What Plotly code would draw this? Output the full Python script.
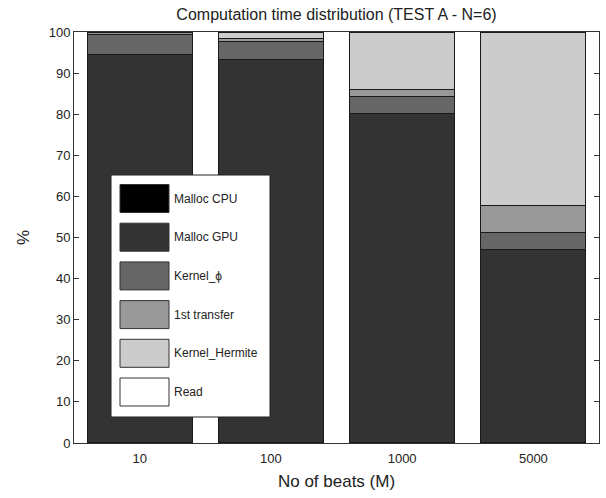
import plotly.graph_objects as go

# Stacked share of computation time per stage, by number of beats
categories = ["10", "100", "1000", "5000"]
series_names = ["Malloc CPU", "Malloc GPU", "Kernel_\u03d5", "1st transfer", "Kernel_Hermite", "Read"]
malloc_cpu = [0.1, 0.1, 0.05, 0.05]
malloc_gpu = [94.4, 93.3, 80.0, 47.1]
kernel_phi = [5.0, 4.4, 4.2, 4.1]
first_transfer = [0.3, 0.5, 1.8, 6.6]
kernel_hermite = [0.2, 1.7, 13.9, 42.1]
read = [0.0, 0.0, 0.05, 0.05]
y_ticks = [0, 10, 20, 30, 40, 50, 60, 70, 80, 90, 100]

series_values = [malloc_cpu, malloc_gpu, kernel_phi, first_transfer, kernel_hermite, read]
colors = ["#000000", "#333333", "#666666", "#999999", "#cccccc", "#ffffff"]

W, H = 606, 498
L, R, T, B = 74, 7, 32, 55
FONT = "Liberation Sans, Arial, sans-serif"

fig = go.Figure()
for name, vals, col in zip(series_names, series_values, colors):
    fig.add_trace(go.Bar(
        x=categories, y=vals, name=name, showlegend=False,
        marker=dict(color=col, line=dict(color="#1a1a1a", width=1)),
    ))

# Legend box drawn in paper coordinates
pw, ph = W - L - R, H - T - B
def px(x):
    return (x - L) / pw
def py(y):
    return 1 - (y - T) / ph

shapes = [dict(type="rect", xref="paper", yref="paper",
               x0=px(111), x1=px(270), y0=py(417), y1=py(175),
               fillcolor="white", line=dict(color="#222222", width=1))]
annotations = []
for i, (name, col) in enumerate(zip(series_names, colors)):
    yc = 198.5 + i * 38.7
    shapes.append(dict(type="rect", xref="paper", yref="paper",
                       x0=px(120), x1=px(169), y0=py(yc + 14), y1=py(yc - 14),
                       fillcolor=col, line=dict(color="#333333", width=1)))
    annotations.append(dict(xref="paper", yref="paper", x=px(172), y=py(yc),
                            text=name, showarrow=False, xanchor="left", yanchor="middle",
                            font=dict(family=FONT, size=12, color="#222222")))

fig.update_layout(
    width=W, height=H,
    margin=dict(l=L, r=R, t=T, b=B),
    paper_bgcolor="white", plot_bgcolor="white",
    barmode="stack", bargap=0.2,
    title=dict(text="Computation time distribution (TEST A - N=6)",
               x=(L + (W - R)) / 2 / W, xanchor="center", y=1 - 14 / H, yanchor="middle",
               font=dict(family=FONT, size=16, color="#222222")),
    xaxis=dict(title=dict(text="No of beats (M)", font=dict(family=FONT, size=17, color="#222222"), standoff=10),
               showline=True, linecolor="#333333", linewidth=1, mirror=True,
               ticks="", ticklabelstandoff=3, tickfont=dict(family=FONT, size=13, color="#222222"),
               showgrid=False, zeroline=False),
    yaxis=dict(title=dict(text="%", font=dict(family=FONT, size=17, color="#222222"), standoff=14),
               range=[0, 100], tickvals=y_ticks,
               showline=True, linecolor="#333333", linewidth=1, mirror="allticks",
               ticks="inside", ticklen=5, tickcolor="#333333",
               tickfont=dict(family=FONT, size=13, color="#222222"),
               showgrid=False, zeroline=False),
    shapes=shapes, annotations=annotations,
)

fig.write_html("out.html")
